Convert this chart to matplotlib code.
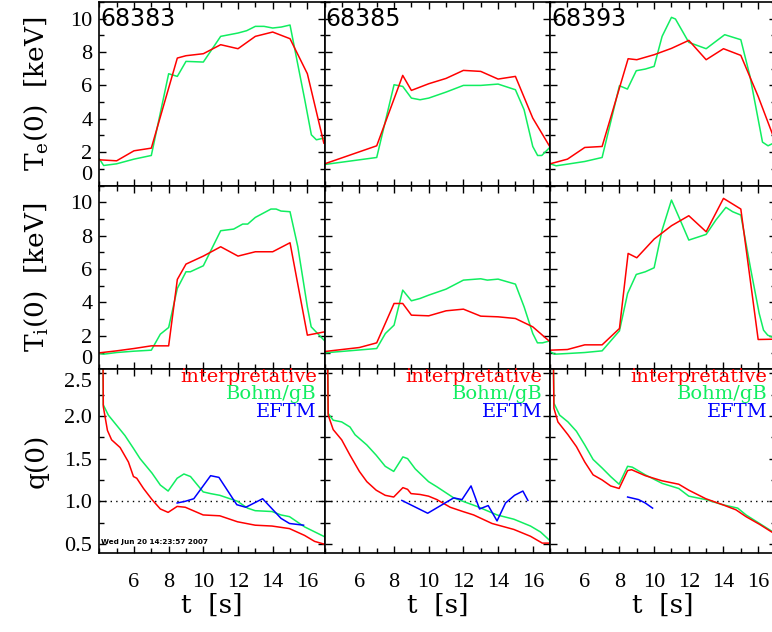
import matplotlib
matplotlib.use("Agg")
import matplotlib.pyplot as plt
from matplotlib.ticker import MultipleLocator, FixedLocator

plt.rcParams['mathtext.fontset'] = 'dejavuserif'

shots = ["68383", "68385", "68393"]

# ---------------- Te(0) [keV] ----------------
te_red_t_68383 = [4, 5, 6, 7, 8.5, 9, 10, 11, 12, 13, 14, 15, 16, 16.95]
te_red_68383 = [1.54, 1.48, 2.08, 2.24, 7.64, 7.78, 7.9, 8.44, 8.2, 8.94, 9.2, 8.8, 6.7, 2.54]
te_grn_t_68383 = [4, 4.25, 5, 6, 7, 8, 8.5, 9, 10, 11, 12, 12.5, 13, 13.5, 14, 14.5, 15,
                  15.85, 16.23, 16.52, 16.95]
te_grn_68383 = [1.6, 1.2, 1.3, 1.58, 1.8, 6.7, 6.54, 7.44, 7.4, 8.94, 9.14, 9.28, 9.54, 9.54,
                9.44, 9.5, 9.62, 5.14, 3.04, 2.74, 2.84]

te_red_t_68385 = [4, 7, 8.5, 9, 10, 11, 12, 13, 14, 15, 16, 17]
te_red_68385 = [1.3, 2.38, 6.6, 5.7, 6.1, 6.42, 6.9, 6.84, 6.38, 6.54, 4.04, 2.3]
te_grn_t_68385 = [4, 7, 8, 8.5, 9, 9.5, 10, 11, 12, 13, 14, 15, 15.5, 16, 16.28, 16.52, 17]
te_grn_68385 = [1.26, 1.68, 6.04, 5.94, 5.24, 5.14, 5.24, 5.6, 6.0, 6.0, 6.08, 5.74, 4.54,
                2.34, 1.8, 1.8, 2.3]

te_red_t_68393 = [4, 5, 6, 7, 8.5, 9, 10, 11, 12, 13, 14, 15, 16, 17]
te_red_68393 = [1.3, 1.58, 2.28, 2.34, 7.6, 7.54, 7.84, 8.22, 8.7, 7.54, 8.2, 7.8, 5.34, 2.6]
te_grn_t_68393 = [4, 4.35, 5, 6, 7, 8, 8.46, 8.97, 9.49, 10, 10.46, 11, 11.23, 12, 13, 13.56,
                  14.07, 15, 15.53, 16.25, 16.57, 17]
te_grn_68393 = [1.3, 1.18, 1.28, 1.44, 1.68, 5.98, 5.78, 6.88, 6.98, 7.14, 8.94, 10.08, 9.98,
                8.58, 8.2, 8.64, 9.04, 8.74, 6.54, 2.6, 2.38, 2.6]

# ---------------- Ti(0) [keV] ----------------
ti_red_t_68383 = [4, 5, 6, 7, 8, 8.5, 9, 10, 11, 12, 13, 14, 15, 16, 17]
ti_red_68383 = [0.98, 1.1, 1.24, 1.4, 1.4, 5.38, 6.3, 6.78, 7.34, 6.78, 7.04, 7.04, 7.58, 2.04, 2.24]
ti_grn_t_68383 = [4, 4.25, 5, 6, 7, 7.52, 8, 8.5, 9, 9.25, 10, 11, 11.75, 12.27, 12.56, 13,
                  13.9, 14.2, 14.48, 15, 15.45, 16, 16.22, 17]
ti_grn_68383 = [0.94, 0.9, 1.0, 1.08, 1.14, 2.1, 2.5, 4.84, 5.84, 5.84, 6.2, 8.3, 8.4, 8.7,
                8.7, 9.1, 9.6, 9.6, 9.48, 9.44, 7.34, 3.74, 2.54, 1.7]

ti_red_t_68385 = [4, 6, 7, 8, 8.5, 9, 10, 11, 12, 13, 14, 15, 16, 17]
ti_red_68385 = [1.06, 1.3, 1.58, 3.94, 3.94, 3.24, 3.2, 3.5, 3.6, 3.18, 3.14, 3.04, 2.54, 1.64]
ti_grn_t_68385 = [4, 7, 7.5, 8, 8.5, 9, 9.5, 10, 11, 12, 13, 13.38, 14, 15, 15.5, 16, 16.27,
                  16.56, 17]
ti_grn_68385 = [0.98, 1.24, 2.14, 2.64, 4.74, 4.1, 4.24, 4.44, 4.8, 5.34, 5.42, 5.34, 5.4,
                5.1, 3.74, 2.14, 1.58, 1.58, 1.7]

ti_red_t_68393 = [4, 5, 6, 7, 8, 8.5, 9, 10, 11, 12, 13, 14, 15, 16, 17]
ti_red_68393 = [1.14, 1.18, 1.46, 1.46, 2.44, 6.94, 6.68, 7.8, 8.6, 9.2, 8.24, 10.24, 9.6,
                1.78, 1.8]
ti_grn_t_68393 = [4, 4.25, 5, 6, 7, 8, 8.47, 8.97, 9.49, 10, 10.46, 11, 11.42, 12, 13, 13.56,
                  14.14, 14.53, 15, 15.58, 16.06, 16.31, 16.55, 17]
ti_grn_68393 = [1.06, 0.9, 0.94, 1.0, 1.1, 2.3, 4.54, 5.68, 5.84, 6.08, 8.34, 10.14, 9.14,
                7.74, 8.08, 8.94, 9.7, 9.44, 9.24, 5.94, 3.34, 2.34, 2.04, 1.84]

# ---------------- q(0) ----------------
q_red_t_68383 = [4.2, 4.23, 4.47, 4.71, 5.2, 5.68, 5.97, 6.16, 6.55, 7.04, 7.52, 7.97, 8.49,
                 8.96, 9.99, 10.95, 11.97, 12.99, 13.96, 14.97, 15.84, 16.42, 16.94]
q_red_68383 = [3.2, 2.11, 1.83, 1.72, 1.63, 1.46, 1.29, 1.27, 1.15, 1.02, 0.91, 0.87, 0.94,
               0.93, 0.84, 0.83, 0.76, 0.72, 0.71, 0.68, 0.60, 0.53, 0.50]
q_grn_t_68383 = [4.2, 4.23, 4.52, 5.0, 5.48, 5.97, 6.35, 7.04, 7.52, 7.97, 8.49, 8.88, 9.26,
                 9.99, 10.42, 10.95, 11.97, 12.55, 12.99, 13.96, 14.48, 14.97, 15.84, 16.94]
q_grn_68383 = [3.2, 2.13, 2.01, 1.89, 1.77, 1.62, 1.50, 1.33, 1.19, 1.12, 1.27, 1.32, 1.29,
               1.11, 1.09, 1.07, 1.00, 0.92, 0.89, 0.88, 0.84, 0.82, 0.70, 0.59]
q_blu_t_68383 = [8.49, 8.96, 9.45, 10.42, 10.9, 11.93, 12.45, 13.42, 14.48, 14.97, 15.78]
q_blu_68383 = [0.98, 1.0, 1.03, 1.30, 1.28, 0.96, 0.93, 1.03, 0.80, 0.74, 0.72]

q_red_t_68385 = [4.15, 4.2, 4.49, 4.98, 5.46, 6.0, 6.43, 6.97, 7.49, 7.98, 8.51, 8.78, 8.98,
                 9.5, 9.99, 10.47, 11.24, 11.97, 12.59, 13.65, 14.91, 15.87, 16.55, 16.93]
q_red_68385 = [3.2, 2.01, 1.84, 1.72, 1.54, 1.35, 1.23, 1.13, 1.07, 1.05, 1.16, 1.14, 1.09,
               1.08, 1.06, 1.02, 0.93, 0.88, 0.84, 0.74, 0.67, 0.59, 0.51, 0.51]
q_grn_t_68385 = [4.15, 4.2, 4.49, 4.98, 5.46, 5.75, 6.43, 6.97, 7.49, 7.98, 8.51, 8.78, 9.22,
                 9.99, 10.47, 11.44, 11.97, 12.78, 13.94, 14.91, 15.87, 16.45, 16.93]
q_grn_68385 = [3.2, 2.03, 1.95, 1.93, 1.87, 1.78, 1.66, 1.54, 1.41, 1.35, 1.52, 1.50, 1.38,
               1.23, 1.17, 1.04, 1.00, 0.94, 0.84, 0.79, 0.71, 0.64, 0.55]
q_blu_t_68385 = [8.45, 9.94, 11.44, 11.92, 12.44, 12.93, 13.43, 13.94, 14.43, 14.95, 15.43, 15.72]
q_blu_68385 = [1.01, 0.86, 1.04, 1.02, 1.18, 0.91, 0.95, 0.77, 0.98, 1.07, 1.12, 1.01]

q_red_t_68393 = [4.16, 4.22, 4.45, 5.03, 5.52, 6.0, 6.48, 7.0, 7.49, 7.98, 8.47, 8.7, 9.49,
                 10.46, 11.42, 12.0, 12.98, 13.95, 14.72, 15.3, 16.08, 16.86, 17.0]
q_red_68393 = [3.2, 2.09, 1.93, 1.78, 1.64, 1.46, 1.31, 1.25, 1.18, 1.15, 1.36, 1.37, 1.30,
               1.24, 1.20, 1.13, 1.03, 0.96, 0.90, 0.82, 0.73, 0.63, 0.61]
q_grn_t_68393 = [4.16, 4.22, 4.55, 5.03, 5.52, 6.0, 6.48, 7.0, 7.49, 7.98, 8.47, 8.74, 9.49,
                 10.46, 11.42, 12.0, 12.98, 13.95, 14.82, 15.3, 16.08, 16.86, 17.0]
q_grn_68393 = [3.2, 2.15, 2.01, 1.93, 1.82, 1.66, 1.49, 1.39, 1.29, 1.20, 1.41, 1.40, 1.31,
               1.21, 1.15, 1.06, 1.02, 0.96, 0.92, 0.84, 0.74, 0.64, 0.62]
q_blu_t_68393 = [8.47, 9.1, 9.49, 9.91]
q_blu_68393 = [1.05, 1.02, 0.98, 0.92]

x_ticks = [6, 8, 10, 12, 14, 16]
x_tick_labels = ["6", "8", "10", "12", "14", "16"]
t_ticks = [0, 2, 4, 6, 8, 10]
q_ticks = [0.5, 1.0, 1.5, 2.0, 2.5]
q_tick_labels = ["0.5", "1.0", "1.5", "2.0", "2.5"]
legend_labels = ["interpretative", "Bohm/gB", "EFTM"]
date_text = "Wed Jun 20 14:23:57 2007"

RED = "#FF0000"
GRN = "#10EE60"
BLU = "#0000FF"

te_data = [
    (te_red_t_68383, te_red_68383, te_grn_t_68383, te_grn_68383),
    (te_red_t_68385, te_red_68385, te_grn_t_68385, te_grn_68385),
    (te_red_t_68393, te_red_68393, te_grn_t_68393, te_grn_68393),
]
ti_data = [
    (ti_red_t_68383, ti_red_68383, ti_grn_t_68383, ti_grn_68383),
    (ti_red_t_68385, ti_red_68385, ti_grn_t_68385, ti_grn_68385),
    (ti_red_t_68393, ti_red_68393, ti_grn_t_68393, ti_grn_68393),
]
q_data = [
    (q_red_t_68383, q_red_68383, q_grn_t_68383, q_grn_68383, q_blu_t_68383, q_blu_68383),
    (q_red_t_68385, q_red_68385, q_grn_t_68385, q_grn_68385, q_blu_t_68385, q_blu_68385),
    (q_red_t_68393, q_red_68393, q_grn_t_68393, q_grn_68393, q_blu_t_68393, q_blu_68393),
]

W, H = 772, 632
fig = plt.figure(figsize=(W / 100, H / 100), dpi=100)
fig.patch.set_facecolor("white")

col_w = 225.4
col_left = [99.3, 99.3 + col_w, 99.3 + 2 * col_w]
row_top = [2.0, 185.7, 369.0]
row_h = 183.5

TICKFONT = dict(family="Liberation Serif", size=16)
LW = 1.1


def style_axes(ax, row, col):
    ax.set_xlim(4, 17)
    ax.xaxis.set_major_locator(FixedLocator(x_ticks))
    ax.xaxis.set_minor_locator(MultipleLocator(1))
    if row < 2:
        ax.set_ylim(0, 11)
        ax.yaxis.set_major_locator(FixedLocator(t_ticks))
        ax.yaxis.set_minor_locator(MultipleLocator(1))
    else:
        ax.set_ylim(0.4, 2.55)
        ax.yaxis.set_major_locator(FixedLocator(q_ticks))
        ax.yaxis.set_minor_locator(MultipleLocator(0.25))
    ax.tick_params(which="both", direction="in", top=True, right=True,
                   width=1.0, color="black")
    ax.tick_params(which="major", length=5)
    ax.tick_params(which="minor", length=3.5)
    for sp in ax.spines.values():
        sp.set_linewidth(1.2)
        sp.set_color("black")
    if row == 2:
        ax.set_xticklabels(x_tick_labels, fontdict=TICKFONT)
        ax.tick_params(axis="x", which="major", pad=15)
        ax.set_xlabel("t  [s]", family="DejaVu Serif", fontsize=19, labelpad=0)
    else:
        ax.set_xticklabels([])
    if col == 0:
        if row < 2:
            labs = ax.set_yticklabels([str(v) for v in t_ticks], fontdict=TICKFONT)
            labs[0].set_verticalalignment("bottom")
        else:
            labs = ax.set_yticklabels(q_tick_labels, fontdict=TICKFONT)
            labs[-1].set_verticalalignment("top")
        ax.tick_params(axis="y", which="major", pad=5)
    else:
        ax.set_yticklabels([])


axes = []
for r in range(3):
    for c in range(3):
        left = col_left[c] / W
        bottom = 1 - (row_top[r] + row_h) / H
        ax = fig.add_axes([left, bottom, col_w / W, row_h / H])
        ax.set_facecolor("white")
        style_axes(ax, r, c)
        if r == 0:
            tr, yr, tg, yg = te_data[c]
            ax.plot(tg, yg, color=GRN, lw=LW)
            ax.plot(tr, yr, color=RED, lw=LW)
            ax.text(0.004, 0.975, shots[c], transform=ax.transAxes, ha="left", va="top",
                    family="DejaVu Sans", fontsize=17)
        elif r == 1:
            tr, yr, tg, yg = ti_data[c]
            ax.plot(tg, yg, color=GRN, lw=LW)
            ax.plot(tr, yr, color=RED, lw=LW)
        else:
            tr, yr, tg, yg, tb, yb = q_data[c]
            ax.axhline(1.0, color="black", lw=1.0, ls=(0, (1, 3)))
            ax.plot(tg, yg, color=GRN, lw=LW)
            ax.plot(tr, yr, color=RED, lw=LW)
            ax.plot(tb, yb, color=BLU, lw=LW)
            for lab, col, yy in zip(legend_labels, [RED, GRN, BLU], [0.955, 0.862, 0.767]):
                ax.text(0.965, yy, lab, transform=ax.transAxes, ha="right", va="center",
                        color=col, family="DejaVu Serif", fontsize=14)
            if c == 0:
                ax.text(0.006, 0.055, date_text, transform=ax.transAxes, ha="left",
                        va="center", family="DejaVu Sans", fontsize=5.2, fontweight="bold")
        axes.append(ax)

ylabels = [r"T$_\mathrm{e}$(0)  [keV]", r"T$_\mathrm{i}$(0)  [keV]", "q(0)"]
for r, lab in enumerate(ylabels):
    yc = 1 - (row_top[r] + row_h / 2) / H
    fig.text(36 / W, yc, lab, rotation=90, ha="center", va="center",
             family="DejaVu Serif", fontsize=19)

fig.savefig("out.png", dpi=100)
